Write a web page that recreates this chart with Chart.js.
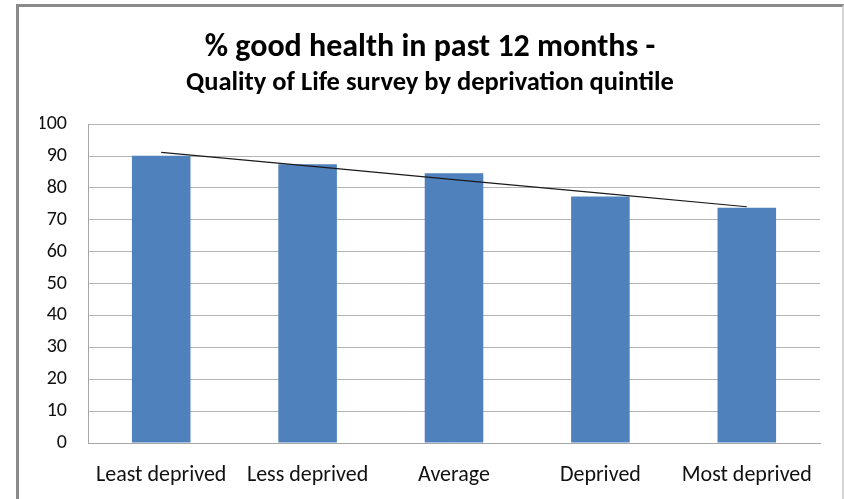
<!DOCTYPE html>
<html>
<head>
<meta charset="utf-8">
<script src="https://cdn.jsdelivr.net/npm/chart.js@4"></script>
<style>
  html, body { margin: 0; padding: 0; background: #fff; overflow: hidden; }
  #frame {
    position: absolute; left: 16px; top: 4px; width: 823px; height: 600px;
    border-left: 3px solid #8a8a8a; border-top: 3px solid #8a8a8a;
    border-right: 2px solid #d4d4d4;
  }
  #wrap { position: absolute; left: 0; top: 0; width: 844px; height: 499px; }
</style>
</head>
<body>
<div id="frame"></div>
<div id="wrap"><canvas id="chart" width="844" height="499"></canvas></div>
<script>
const categories = ['Least deprived', 'Less deprived', 'Average', 'Deprived', 'Most deprived'];
const goodHealth = [90.1, 87.4, 84.6, 77.3, 73.8];
const yTicks = [0, 10, 20, 30, 40, 50, 60, 70, 80, 90, 100];

// linear trendline (least squares) like the Excel one
const n = goodHealth.length;
const mx = (n - 1) / 2;
const my = goodHealth.reduce((a, b) => a + b, 0) / n;
let sxy = 0, sxx = 0;
goodHealth.forEach((v, i) => { sxy += (i - mx) * (v - my); sxx += (i - mx) * (i - mx); });
const slope = sxy / sxx;
const trend = goodHealth.map((v, i) => my + slope * (i - mx));

const font = "Carlito, 'Liberation Sans Narrow', 'Liberation Sans', sans-serif";

new Chart(document.getElementById('chart'), {
  type: 'bar',
  data: {
    labels: categories,
    datasets: [
      {
        type: 'line',
        label: 'Trend',
        data: trend,
        borderColor: '#1a1a1a',
        borderWidth: 1.2,
        pointRadius: 0,
        fill: false,
        order: 0
      },
      {
        label: '% good health',
        data: goodHealth,
        backgroundColor: '#4F81BD',
        barPercentage: 0.4,
        categoryPercentage: 1,
        order: 1
      }
    ]
  },
  options: {
    responsive: false,
    animation: false,
    layout: { padding: { left: 40, right: 24, top: 0, bottom: 0 } },
    plugins: {
      legend: { display: false },
      tooltip: { enabled: false },
      title: {
        display: true,
        text: '% good health in past 12 months -',
        color: '#000',
        font: { family: font, size: 32, weight: 'bold' },
        padding: { top: 29, bottom: 0 }
      },
      subtitle: {
        display: true,
        text: 'Quality of Life survey by deprivation quintile',
        color: '#000',
        font: { family: font, size: 26.5, weight: 'bold' },
        padding: { top: 0, bottom: 25 }
      }
    },
    scales: {
      x: {
        grid: { display: false, drawTicks: false },
        border: { color: '#a6a6a6' },
        ticks: { color: '#111', font: { family: font, size: 22 }, padding: 19, maxRotation: 0, autoSkip: false },
        afterFit: s => { s.height = 56; }
      },
      y: {
        min: 0,
        max: 100,
        afterBuildTicks: s => { s.ticks = yTicks.map(v => ({ value: v })); },
        grid: { color: '#b3b3b3', drawTicks: false },
        border: { color: '#a6a6a6' },
        ticks: { color: '#111', font: { family: font, size: 20 }, padding: 21 },
        afterFit: s => { s.width = 48; }
      }
    }
  }
});
</script>
</body>
</html>
